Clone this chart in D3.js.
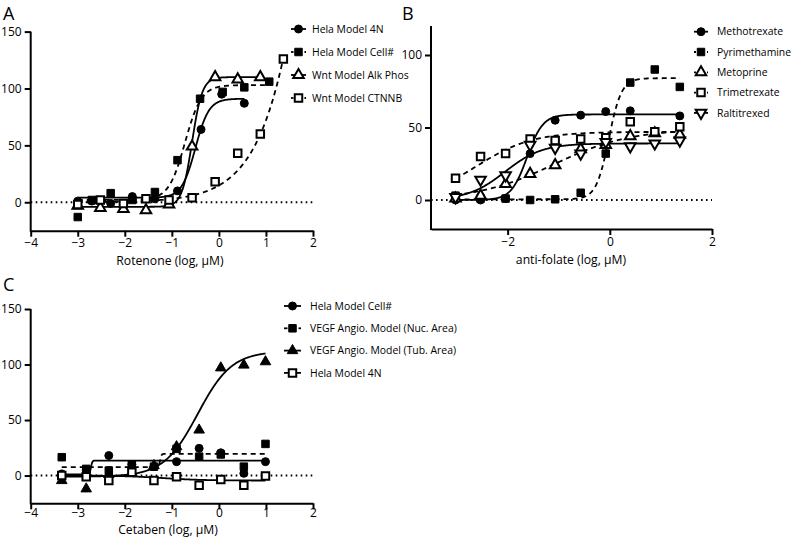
<!DOCTYPE html>
<html><head><meta charset="utf-8">
<script src="https://cdn.jsdelivr.net/npm/d3@7"></script>
<style>
body{margin:0;background:#fff}
text{font-family:"Open Sans",sans-serif;fill:#000}
</style>
</head><body>
<svg id="chart" width="793" height="544"></svg>
<script>
// ---------- Panel A : Rotenone ----------
const aDoses4N    = [-3.0, -2.7, -2.3, -1.84, -1.36, -0.88, -0.38, 0.06, 0.54];
const aHela4N     = [1, 1, -1, 5, 3, 10, 64, 95, 87];
const aDosesCell  = [-3.0, -2.7, -2.3, -1.84, -1.36, -0.88, -0.40, 0.08, 0.54, 1.07];
const aHelaCell   = [-13, 2, 8, 2, 9, 37, 91, 97, 101, 106];
const aDosesWnt   = [-3.0, -2.52, -2.03, -1.55, -1.06, -0.57, -0.08, 0.40, 0.88, 1.37];
const aWntAlkPhos = [-3, -5, -6, -7, -2, 49, 110, 108, 110, null];
const aWntCtnnb   = [-2, 2, -1, 3, 2, 4, 18, 43, 60, 126];
// fit parameters [bottom, top, logEC50, hill]
const aFit4N      = [4, 91, -0.5, 3];
const aFitCell    = [2, 103, -0.72, 2.5];
const aFitAlk     = [-4, 110, -0.57, 4];
const aFitCtnnb   = [0, 2000, 3.04, 0.7];
const aNames = ["Hela Model 4N", "Hela Model Cell#", "Wnt Model Alk Phos", "Wnt Model CTNNB"];
const aXTicks = [-4, -3, -2, -1, 0, 1, 2];
const aYTicks = [0, 50, 100, 150];

// ---------- Panel B : anti-folates ----------
const bDoses         = [-3.02, -2.53, -2.04, -1.56, -1.07, -0.57, -0.08, 0.40, 0.88, 1.37];
const bMethotrexate  = [0, 0, 1, 32, 55, 58.5, 61, 61.5, null, 58];
const bPyrimethamine = [3, 1, 1, 0, 0.5, 5, 32, 81, 90, 78];
const bMetoprine     = [1, 3, 11, 18, 24, 35, 38, 44, 46, 45];
const bTrimetrexate  = [15, 30, 32, 42, 41, 42, 43, 54, 47, 50.5];
const bRaltitrexed   = [2, 14, 17, 38, 36, 32, 40, 37, 39, 41];
const bFitMtx  = [0, 59, -1.62, 2.8];
const bFitPyr  = [0.5, 84, -0.02, 3.5];
const bFitMeto = [0, 49, -1.1, 0.58];
const bFitTmx  = [0, 47, -2.6, 0.8];
const bFitRal  = [0, 39, -2.05, 1.2];
const bNames = ["Methotrexate", "Pyrimethamine", "Metoprine", "Trimetrexate", "Raltitrexed"];
const bXTicks = [-2, 0, 2];
const bYTicks = [0, 50, 100];

// ---------- Panel C : Cetaben ----------
const cDoses     = [-3.34, -2.82, -2.34, -1.85, -1.38, -0.90, -0.42, 0.04, 0.53, 0.99];
const cHelaCell  = [1.5, 5, 18, 10, 8, 12.5, 24.5, 20.5, 2, 12.5];
const cVegfNuc   = [16.5, 6, 4.5, 10, 8, 24, 17, 19, 8, 28.5];
const cVegfTub   = [-4.5, -12, 1, 2, 9, 26, 41, 97, 99.5, 102.5];
const cHela4N    = [0, -1, -4.5, 3, -4.5, -1, -8.7, -3.5, -8.7, -0.5];
const cFitCell = [1, 13.5, -2.72, 30];
const cFitNuc  = [7.5, 19.5, -1.25, 30];
const cFitTub  = [-1, 112, -0.45, 1.2];
const cFit4N   = [0, -4.5, -1.2, 1];
const cNames = ["Hela Model Cell#", "VEGF Angio. Model (Nuc. Area)", "VEGF Angio. Model (Tub. Area)", "Hela Model 4N"];
const cXTicks = [-4, -3, -2, -1, 0, 1, 2];
const cYTicks = [0, 50, 100, 150];

const svg = d3.select("#chart");

function logistic(p, x){ return p[0] + (p[1]-p[0])/(1+Math.pow(10,(p[2]-x)*p[3])); }

const symbols = {
  circle: {type: d3.symbolCircle, size: 50, rot: 0},
  square: {type: d3.symbolSquare, size: 56, rot: 0},
  triangle: {type: d3.symbolTriangle, size: 48, rot: 0},
  tridown: {type: d3.symbolTriangle, size: 48, rot: 180}
};

function drawMarker(g, x, y, shape, filled){
  const s = symbols[shape];
  g.append("path")
    .attr("d", d3.symbol().type(s.type).size(s.size)())
    .attr("transform", `translate(${x},${y}) rotate(${s.rot})`)
    .attr("fill", filled ? "#000" : "#fff")
    .attr("stroke", "#000")
    .attr("stroke-width", filled ? 1 : 2);
}

function panel(cfg){
  const x = d3.scaleLinear().domain(cfg.xDomain).range(cfg.xRange);
  const y = d3.scaleLinear().domain(cfg.yDomain).range(cfg.yRange);
  const g = svg.append("g");

  // zero dotted line
  g.append("line")
    .attr("x1", cfg.xRange[0]).attr("x2", cfg.xRange[1])
    .attr("y1", y(0)).attr("y2", y(0))
    .attr("stroke", "#000").attr("stroke-width", 2)
    .attr("stroke-dasharray", "1.6,3.4");

  // axes
  const xa = g.append("g").attr("transform", `translate(0,${cfg.yRange[0]})`)
    .call(d3.axisBottom(x).tickValues(cfg.xTicks).tickSize(6).tickSizeOuter(0).tickPadding(cfg.xPad).tickFormat(d3.format("d")));
  const ya = g.append("g").attr("transform", `translate(${cfg.xRange[0]},0)`)
    .call(d3.axisLeft(y).tickValues(cfg.yTicks).tickSize(6).tickSizeOuter(0).tickPadding(3).tickFormat(d3.format("d")));
  [xa, ya].forEach(a => {
    a.select(".domain").attr("stroke", "#000").attr("stroke-width", 2);
    a.selectAll(".tick line").attr("stroke", "#000").attr("stroke-width", 2);
    a.selectAll(".tick text").style("font-size", "12px").style("font-family", '"Open Sans",sans-serif').attr("fill", "#000");
  });
  ya.select(".domain").attr("d", `M0,${cfg.yRange[0]+1}V${cfg.yRange[1]}`);

  // curves
  const line = d3.line().x(d => x(d[0])).y(d => y(d[1]));
  cfg.series.forEach(s => {
    const xs = s.doses.filter((d,i) => s.vals[i] !== null);
    const lo = d3.min(xs), hi = d3.max(xs);
    const pts = d3.range(0, 501).map(i => { const xv = lo + (hi-lo)*i/500; return [xv, logistic(s.fit, xv)]; });
    g.append("path").attr("d", line(pts)).attr("fill", "none")
      .attr("stroke", "#000").attr("stroke-width", 1.8)
      .attr("stroke-dasharray", s.dashed ? "5,4" : null);
  });
  // markers
  cfg.series.forEach(s => {
    s.vals.forEach((v, i) => { if (v !== null) drawMarker(g, x(s.doses[i]), y(v), s.shape, s.filled); });
  });

  // axis title
  g.append("text").attr("x", cfg.titleX).attr("y", cfg.titleY).attr("text-anchor", "middle")
    .style("font-size", "12.2px").text(cfg.xTitle);
  // panel letter
  g.append("text").attr("x", cfg.letterPos[0]).attr("y", cfg.letterPos[1])
    .style("font-size", "18px").text(cfg.letter);

  // legend
  cfg.series.forEach((s, i) => {
    const ly = cfg.legend.y0 + i*cfg.legend.dy;
    const lx0 = cfg.legend.x0, lx1 = cfg.legend.x1, mx = (lx0+lx1)/2;
    if (s.dashed) {
      g.append("line").attr("x1", lx0).attr("x2", mx-5).attr("y1", ly).attr("y2", ly).attr("stroke", "#000").attr("stroke-width", 1.8);
      g.append("line").attr("x1", mx+6).attr("x2", lx1).attr("y1", ly).attr("y2", ly).attr("stroke", "#000").attr("stroke-width", 1.8);
    } else {
      g.append("line").attr("x1", lx0).attr("x2", lx1).attr("y1", ly).attr("y2", ly).attr("stroke", "#000").attr("stroke-width", 1.8);
    }
    drawMarker(g, mx, ly, s.shape, s.filled);
    g.append("text").attr("x", cfg.legend.tx).attr("y", ly).attr("dy", "0.35em")
      .style("font-size", "10.4px").text(s.name);
  });
}

panel({
  letter: "A", letterPos: [3, 20],
  xDomain: [-4, 2], xRange: [30.7, 313], yDomain: [-25, 150], yRange: [230.7, 31.6], xPad: 2,
  xTicks: aXTicks, yTicks: aYTicks, xTitle: "Rotenone (log, \u00B5M)", titleX: 170, titleY: 264.5,
  legend: {x0: 291, x1: 306, tx: 312, y0: 29, dy: 23},
  series: [
    {name: aNames[0], doses: aDoses4N, vals: aHela4N, fit: aFit4N, shape: "circle", filled: true, dashed: false},
    {name: aNames[1], doses: aDosesCell, vals: aHelaCell, fit: aFitCell, shape: "square", filled: true, dashed: true},
    {name: aNames[2], doses: aDosesWnt, vals: aWntAlkPhos, fit: aFitAlk, shape: "triangle", filled: false, dashed: false},
    {name: aNames[3], doses: aDosesWnt, vals: aWntCtnnb, fit: aFitCtnnb, shape: "square", filled: false, dashed: true}
  ]
});

panel({
  letter: "B", letterPos: [402, 20],
  xDomain: [-3.5, 2], xRange: [431, 712], yDomain: [-20, 120], yRange: [229, 26], xPad: 2,
  xTicks: bXTicks, yTicks: bYTicks, xTitle: "anti-folate (log, \u00B5M)", titleX: 571, titleY: 263.5,
  legend: {x0: 694, x1: 708, tx: 717, y0: 31.7, dy: 20.3},
  series: [
    {name: bNames[0], doses: bDoses, vals: bMethotrexate, fit: bFitMtx, shape: "circle", filled: true, dashed: false},
    {name: bNames[1], doses: bDoses, vals: bPyrimethamine, fit: bFitPyr, shape: "square", filled: true, dashed: true},
    {name: bNames[2], doses: bDoses, vals: bMetoprine, fit: bFitMeto, shape: "triangle", filled: false, dashed: true},
    {name: bNames[3], doses: bDoses, vals: bTrimetrexate, fit: bFitTmx, shape: "square", filled: false, dashed: true},
    {name: bNames[4], doses: bDoses, vals: bRaltitrexed, fit: bFitRal, shape: "tridown", filled: false, dashed: false}
  ]
});

panel({
  letter: "C", letterPos: [3, 291],
  xDomain: [-4, 2], xRange: [30.7, 313], yDomain: [-25, 150], yRange: [503.3, 309], xPad: -1,
  xTicks: cXTicks, yTicks: cYTicks, xTitle: "Cetaben (log, \u00B5M)", titleX: 168, titleY: 533.5,
  legend: {x0: 284, x1: 301, tx: 310, y0: 306, dy: 22.3},
  series: [
    {name: cNames[0], doses: cDoses, vals: cHelaCell, fit: cFitCell, shape: "circle", filled: true, dashed: false},
    {name: cNames[1], doses: cDoses, vals: cVegfNuc, fit: cFitNuc, shape: "square", filled: true, dashed: true},
    {name: cNames[2], doses: cDoses, vals: cVegfTub, fit: cFitTub, shape: "triangle", filled: true, dashed: false},
    {name: cNames[3], doses: cDoses, vals: cHela4N, fit: cFit4N, shape: "square", filled: false, dashed: false}
  ]
});
</script>
</body></html>
